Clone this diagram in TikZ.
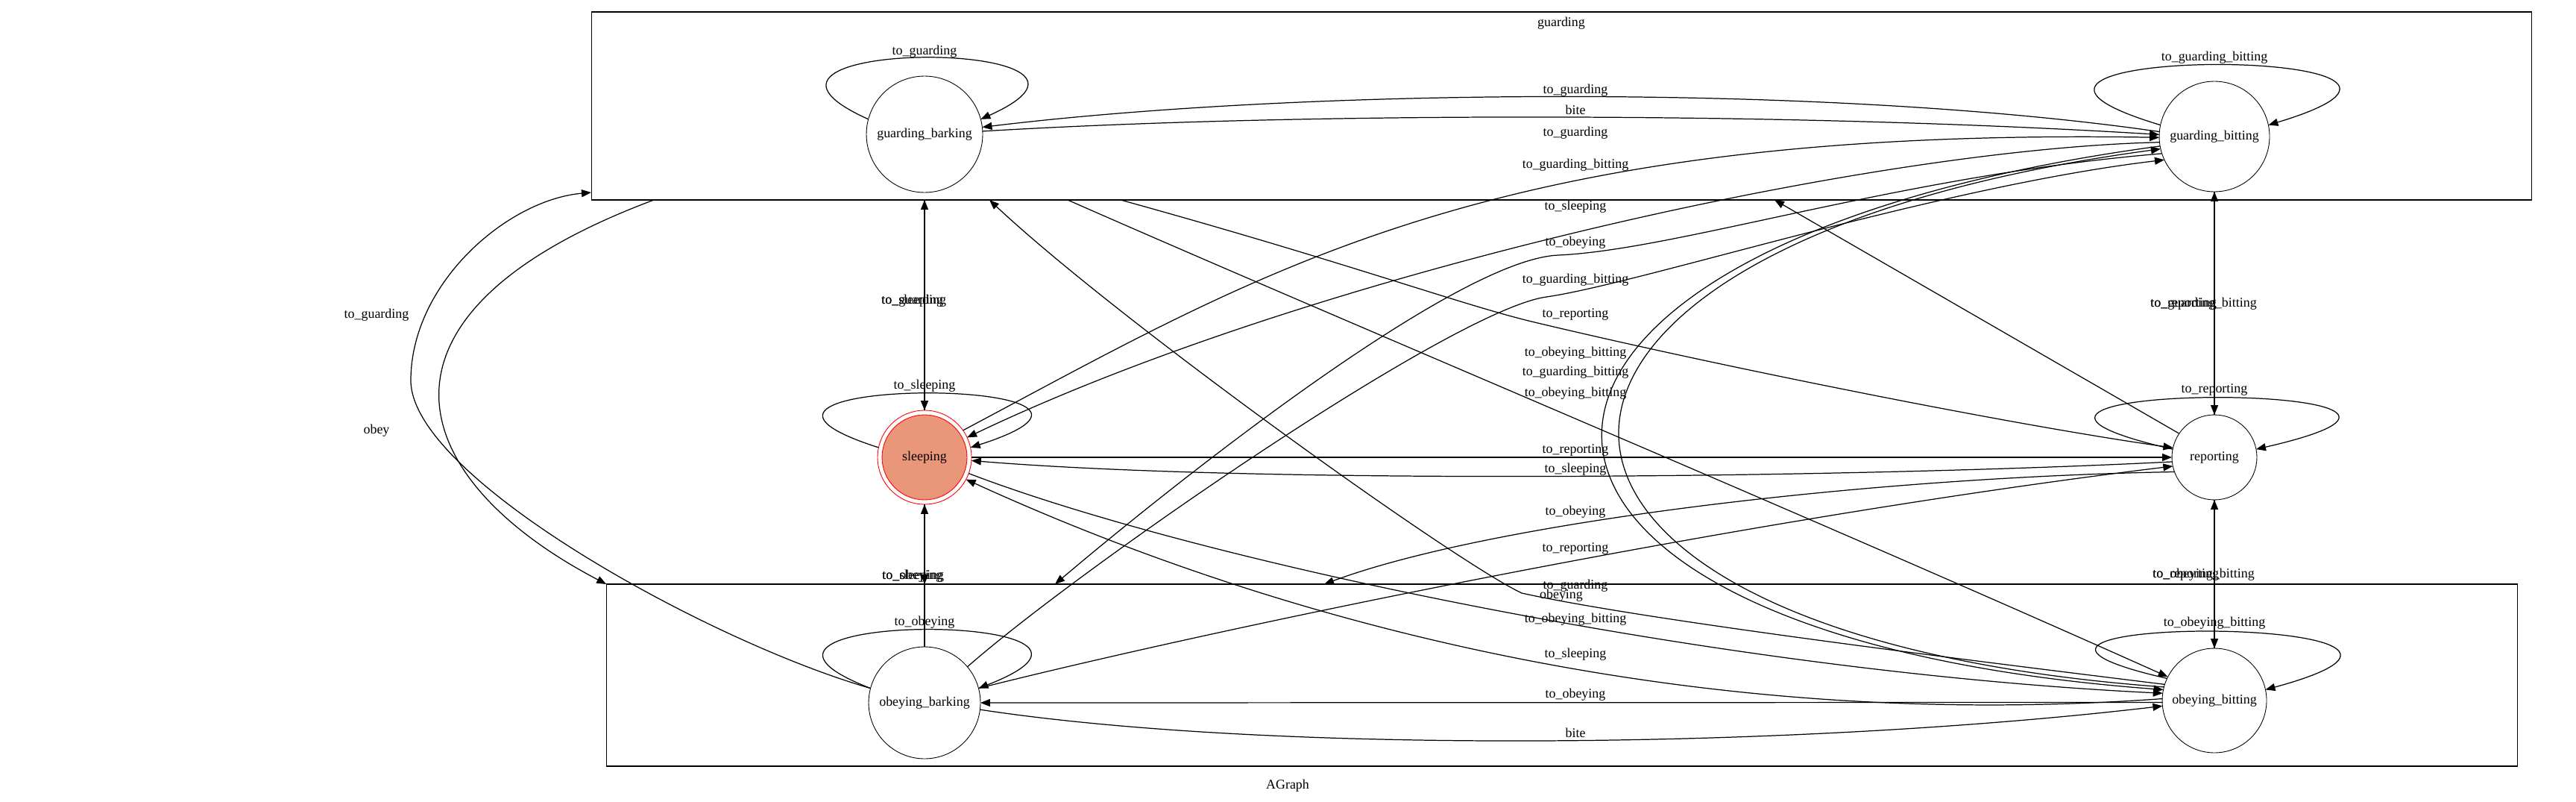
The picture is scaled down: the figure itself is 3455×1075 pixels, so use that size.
\documentclass[tikz,border=0pt]{standalone}
\usepackage{fontspec}
\setmainfont{Liberation Serif}
\usetikzlibrary{arrows.meta}
\definecolor{salmonfill}{RGB}{233,150,122}
\begin{document}
\begin{tikzpicture}[>={Triangle[length=2.6mm,width=2mm]},x=0.02cm,y=-0.02cm,
	every node/.style={font=\fontsize{10.2}{12}\selectfont},
	state/.style={circle,draw,line width=0.5pt,inner sep=0pt,outer sep=0pt},
	cluster/.style={rectangle,draw,line width=0.8pt,inner sep=0pt,outer sep=0pt},
	lbl/.style={inner sep=0pt},
	trans/.style={->,line width=0.7pt}]
	\useasboundingbox (0,0) rectangle (3455,1075);
	% clusters
	\node[cluster,minimum width=52.06cm,minimum height=5.04cm] (clguard) at (2094.5,142) {};
	\node[cluster,minimum width=51.28cm,minimum height=4.88cm] (clobey) at (2095,905) {};
	\node[lbl] (cgname) at (2094,31) {guarding};
	\node[lbl] (coname) at (2094,798) {obeying};
	\node[lbl] (gname) at (1727,1053) {AGraph};
	% states
	\node[state,minimum size=3.12cm] (gbar) at (1240,180) {guarding\_barking};
	\node[state,minimum size=2.96cm] (gbit) at (2970,183) {guarding\_bitting};
	\node[state,draw=red,minimum size=2.52cm,path picture={\draw[red,fill=salmonfill,line width=0.5pt] (path picture bounding box.center) circle (1.14cm);}] (sleeping) at (1240,613) {sleeping};
	\node[state,minimum size=2.28cm] (reporting) at (2970,613) {reporting};
	\node[state,minimum size=3cm] (obar) at (1240,942) {obeying\_barking};
	\node[state,minimum size=2.8cm] (obit) at (2970,939) {obeying\_bitting};
	% ends on the cluster borders
	\coordinate (gobey) at (877,268);
	\coordinate (grep) at (1503,268);
	\coordinate (gobb) at (1432,268);
	\coordinate (gin1) at (1327,268);
	\coordinate (gin2) at (2380,268);
	\coordinate (gleft) at (793,258);
	\coordinate (oin1) at (1415,783);
	\coordinate (oin2) at (1776,783);
	% loops
	\draw[trans] (gbar.165) .. controls (920,50) and (1560,50) .. (gbar.15);
	\draw[trans] (gbit.168) .. controls (2540,60) and (3400,60) .. (gbit.12);
	\draw[trans] (sleeping.168) .. controls (876,503) and (1604,503) .. (sleeping.12);
	\draw[trans] (reporting.169) .. controls (2512,510) and (3428,510) .. (reporting.11);
	\draw[trans] (obar.165) .. controls (898,818) and (1582,818) .. (obar.15);
	\draw[trans] (obit.155) .. controls (2529,823) and (3411,823) .. (obit.12);
	% vertical
	\draw[trans] (sleeping.north) -- (sleeping.north |- clguard.south);
	\draw[trans] (sleeping.north |- clguard.south) -- (sleeping.north);
	\draw[trans] (obar.north) -- (sleeping.south);
	\draw[trans] (sleeping.south) -- (sleeping.south |- clobey.north);
	\draw[trans] (reporting.north) -- (gbit.south);
	\draw[trans] (gbit.south) -- (reporting.north);
	\draw[trans] (reporting.south) -- (obit.north);
	\draw[trans] (obit.north) -- (reporting.south);
	% left side
	\draw[trans] (gobey) .. controls (470,420) and (540,640) .. (clobey.north west);
	\draw[trans] (obar.165) .. controls (950,860) and (551,640) .. (551,510) .. controls (551,380) and (680,268) .. (gleft);
	% across
	\draw[trans] (gbit.175) .. controls (2450,112) and (1750,118) .. (gbar.7);
	\draw[trans] (gbar.3) .. controls (1750,150) and (2400,150) .. (gbit.178);
	\draw[trans] (reporting.146) -- (gin2);
	\draw[trans] (sleeping.35) .. controls (1700,360) and (2000,170) .. (gbit.181);
	\draw[trans] (gbit.186) .. controls (2500,200) and (1750,370) .. (sleeping.25);
	\draw[trans] (gbit.198) .. controls (2550,235) and (2250,335) .. (2090,342) .. controls (1950,348) and (1565,656) .. (oin1);
	\draw[trans] (obar.40) .. controls (1450,760) and (1950,415) .. (2074,398) .. controls (2200,380) and (2600,250) .. (gbit.205);
	\draw[trans] (grep) .. controls (1800,350) and (1950,405) .. (2050,430) .. controls (2300,490) and (2700,570) .. (reporting.167);
	\draw[trans] (gbit.190) .. controls (1900,330) and (1900,850) .. (obit.168);
	\draw[trans] (obit.165) .. controls (1930,850) and (1930,330) .. (gbit.193);
	\draw[trans] (gobb) .. controls (1800,430) and (2400,680) .. (obit.153);
	\draw[trans] (sleeping.east) -- (reporting.west);
	\draw[trans] (reporting.186) .. controls (2500,640) and (1700,650) .. (sleeping.356);
	\draw[trans] (reporting.200) .. controls (2500,640) and (2000,700) .. (oin2);
	\draw[trans] (obar.15) .. controls (1600,850) and (2300,700) .. (reporting.192);
	\draw[trans] (obit.162) .. controls (2600,880) and (2200,830) .. (2041,795) .. controls (1950,752) and (1500,430) .. (gin1);
	\draw[trans] (sleeping.340) .. controls (1600,750) and (2300,900) .. (obit.172);
	\draw[trans] (obit.178) .. controls (2300,980) and (1750,850) .. (sleeping.332);
	\draw[trans] (obit.182) -- (obar.east);
	\draw[trans] (obar.353) .. controls (1700,1010) and (2400,1005) .. (obit.186);
	% loop labels
	\node[lbl] (lgbar) at (1240,69) {to\_guarding};
	\node[lbl] (lgbit) at (2970,77) {to\_guarding\_bitting};
	\node[lbl] (lsl) at (1240,517) {to\_sleeping};
	\node[lbl] (lrep) at (2970,522) {to\_reporting};
	\node[lbl] (lobar) at (1240,834) {to\_obeying};
	\node[lbl] (lobit) at (2970,835) {to\_obeying\_bitting};
	% side labels
	\node[lbl] (lleft1) at (505,422) {to\_guarding};
	\node[lbl] (lleft2) at (505,577) {obey};
	\node[lbl,anchor=west] (lv1a) at (1182,403) {to\_sleeping};
	\node[lbl,anchor=west] (lv1b) at (1182,403) {to\_guarding};
	\node[lbl,anchor=west] (lv2a) at (1183,772) {to\_sleeping};
	\node[lbl,anchor=west] (lv2b) at (1183,772) {to\_obeying};
	\node[lbl,anchor=west] (lv3a) at (2884,407) {to\_guarding\_bitting};
	\node[lbl,anchor=west] (lv3b) at (2884,407) {to\_reporting};
	\node[lbl,anchor=west] (lv4a) at (2887,770) {to\_obeying\_bitting};
	\node[lbl,anchor=west] (lv4b) at (2887,770) {to\_reporting};
	% middle labels
	\node[lbl] (m121) at (2113,121) {to\_guarding};
	\node[lbl] (m147) at (2113,147) {bite};
	\node[lbl] (m178) at (2113,178) {to\_guarding};
	\node[lbl] (m221) at (2113,221) {to\_guarding\_bitting};
	\node[lbl] (m277) at (2113,277) {to\_sleeping};
	\node[lbl] (m325) at (2113,325) {to\_obeying};
	\node[lbl] (m375) at (2113,375) {to\_guarding\_bitting};
	\node[lbl] (m421) at (2113,421) {to\_reporting};
	\node[lbl] (m473) at (2113,473) {to\_obeying\_bitting};
	\node[lbl] (m499) at (2113,499) {to\_guarding\_bitting};
	\node[lbl] (m527) at (2113,527) {to\_obeying\_bitting};
	\node[lbl] (m603) at (2113,603) {to\_reporting};
	\node[lbl] (m629) at (2113,629) {to\_sleeping};
	\node[lbl] (m686) at (2113,686) {to\_obeying};
	\node[lbl] (m735) at (2113,735) {to\_reporting};
	\node[lbl] (m785) at (2113,785) {to\_guarding};
	\node[lbl] (m830) at (2113,830) {to\_obeying\_bitting};
	\node[lbl] (m877) at (2113,877) {to\_sleeping};
	\node[lbl] (m931) at (2113,931) {to\_obeying};
	\node[lbl] (m982) at (2113,982) {bite};
\end{tikzpicture}
\end{document}
